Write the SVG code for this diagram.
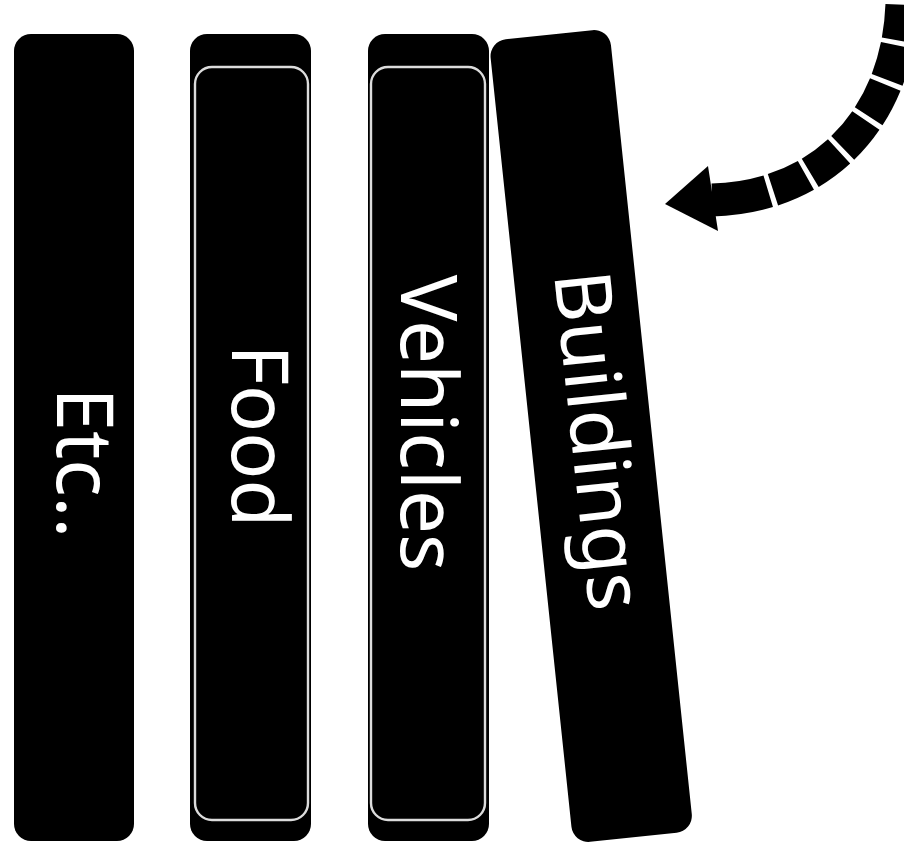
<svg xmlns="http://www.w3.org/2000/svg" width="904" height="842" viewBox="0 0 904 842">
  <style>
    .book { fill: #000; }
    .inner { fill: none; stroke: #dcdcdc; stroke-width: 2.4; }
    .label { fill: #fff; font-family: "Noto Sans", "Open Sans", "Liberation Sans", sans-serif; font-size: 78px; text-anchor: middle; }
  </style>
  <rect width="904" height="842" fill="#fff"/>
  <g id="book-etc">
    <rect class="book" x="14" y="34" width="120" height="807" rx="17"/>
    <text class="label" transform="translate(57,463) rotate(90)">Etc..</text>
  </g>
  <g id="book-food">
    <rect class="book" x="190" y="34" width="121" height="807" rx="17"/>
    <rect class="inner" x="195" y="67" width="113" height="753" rx="17"/>
    <text class="label" transform="translate(232,436) rotate(90)">Food</text>
  </g>
  <g id="book-vehicles">
    <rect class="book" x="368" y="34" width="121" height="807" rx="17"/>
    <rect class="inner" x="371" y="67" width="114" height="753" rx="17"/>
    <text class="label" transform="translate(401,423) rotate(90)">Vehicles</text>
  </g>
  <g id="book-buildings">
    <rect class="book" x="-60.5" y="-403.5" width="121" height="807" rx="17" transform="translate(591.2,436) rotate(-6)"/>
    <text class="label" transform="translate(571.8,443.1) rotate(84)">Buildings</text>
  </g>
  <g id="connectors">
    <path d="M 712,200 C 828,197 906,110 902,-15" fill="none" stroke="#000" stroke-width="33" stroke-dasharray="57 5 36 5 36 5 36 5 36 5 36 5 36 5 36 5 36 5 36 5"/>
    <polygon points="665,204 708,166 718,231" fill="#000"/>
  </g>
</svg>
